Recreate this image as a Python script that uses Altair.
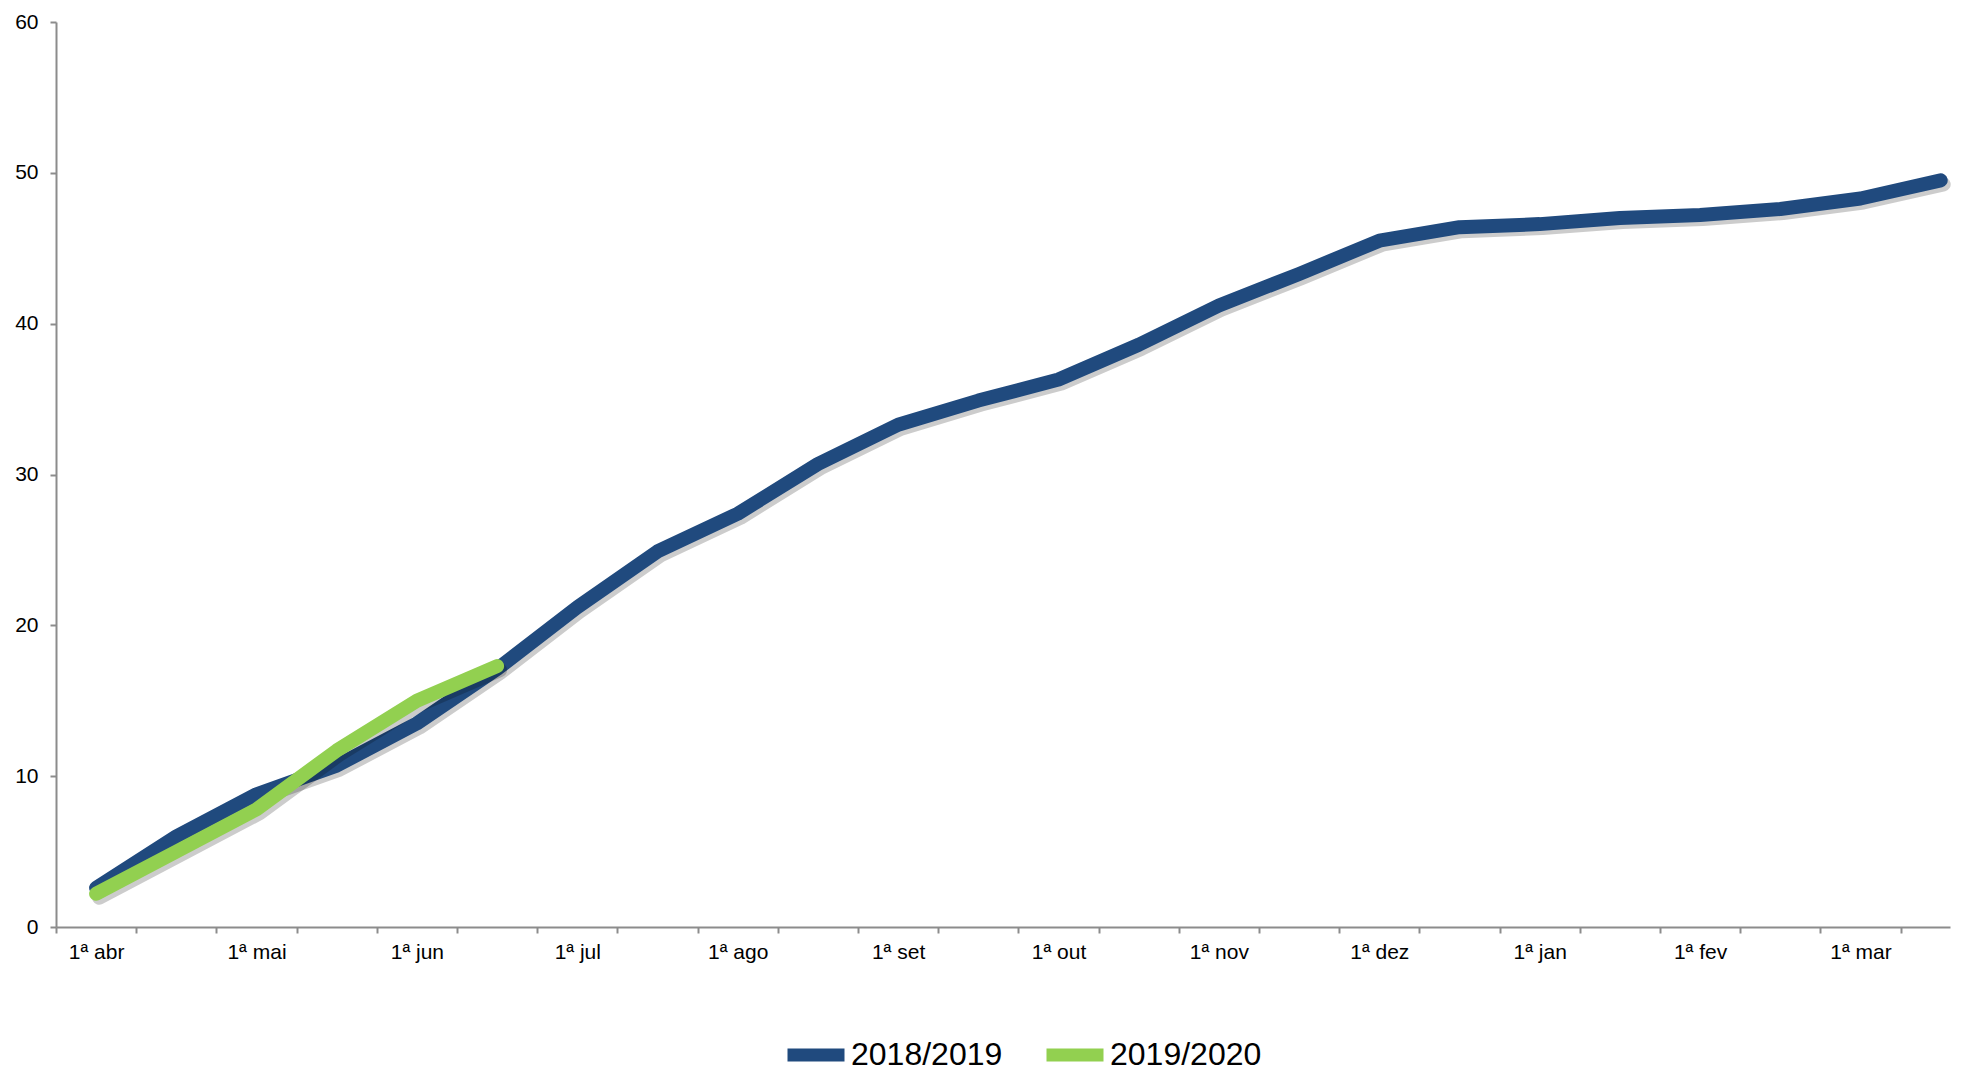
import altair as alt
import pandas as pd

# Month labels (every other half-month period carries a label)
month_labels = ["1ª abr", "1ª mai", "1ª jun", "1ª jul", "1ª ago", "1ª set",
                "1ª out", "1ª nov", "1ª dez", "1ª jan", "1ª fev", "1ª mar"]

series_names = ["2018/2019", "2019/2020"]

values_2018_2019 = [2.6, 6.0, 8.8, 10.7, 13.5, 17.1, 21.2, 24.9, 27.4, 30.7,
                    33.3, 34.9, 36.3, 38.6, 41.2, 43.3, 45.5, 46.4, 46.6, 47.0,
                    47.2, 47.6, 48.3, 49.5]
values_2019_2020 = [2.2, 5.0, 7.8, 11.7, 15.0, 17.3]

colors = ["#204A7E", "#92D050"]

rows = []
for i, v in enumerate(values_2018_2019):
    rows.append({"period": i + 0.5, "series": series_names[0], "value": v})
for i, v in enumerate(values_2019_2020):
    rows.append({"period": i + 0.5, "series": series_names[1], "value": v})
df = pd.DataFrame(rows)

n_periods = len(values_2018_2019)
PLOT_W = 1894
STEP = 80.2
X_MAX = PLOT_W / STEP
FONT = "Liberation Sans"

label_array = "[" + ",".join("'" + m + "'" for m in month_labels) + "]"
label_expr = f"datum.value % 2 == 0 ? {label_array}[datum.value / 2] : ''"

x_enc = alt.X(
    "period:Q",
    scale=alt.Scale(domain=[0, X_MAX], nice=False, zero=False),
    axis=alt.Axis(
        values=list(range(n_periods)),
        labelExpr=label_expr,
        labelOffset=STEP / 2,
        labelFlush=False,
        labelOverlap=False,
        title=None,
        grid=False,
        tickSize=6,
        labelPadding=8,
    ),
)
y_enc = alt.Y(
    "value:Q",
    scale=alt.Scale(domain=[0, 60], nice=False),
    axis=alt.Axis(values=[0, 10, 20, 30, 40, 50, 60], title=None, grid=False,
                  tickSize=6, labelPadding=12),
)

color_enc = alt.Color(
    "series:N",
    scale=alt.Scale(domain=series_names, range=colors),
    legend=alt.Legend(
        title=None,
        orient="none",
        direction="horizontal",
        legendX=725,
        legendY=998,
        symbolType="stroke",
        symbolSize=3249,
        symbolStrokeWidth=13,
        labelFontSize=32,
        labelFont=FONT,
        labelColor="#000000",
        labelOffset=0,
        columnPadding=17,
    ),
)

base = alt.Chart(df)

def shadow(name):
    return base.transform_filter(alt.datum.series == name).mark_line(
        strokeWidth=14, strokeCap="round", strokeJoin="round",
        color="#000000", opacity=0.2, xOffset=3, yOffset=4,
    ).encode(x=x_enc, y=y_enc, detail="series:N")

def line(name):
    return base.transform_filter(alt.datum.series == name).mark_line(
        strokeWidth=14, strokeCap="round", strokeJoin="round",
    ).encode(x=x_enc, y=y_enc, color=color_enc)

chart = alt.layer(
    shadow(series_names[0]), line(series_names[0]),
    shadow(series_names[1]), line(series_names[1]),
).properties(
    width=PLOT_W,
    height=905,
    autosize=alt.AutoSizeParams(type="none"),
    padding={"left": 48, "top": 14, "right": 6, "bottom": 146},
).configure_view(
    stroke=None
).configure_axis(
    labelFont=FONT,
    labelFontSize=21,
    labelColor="#000000",
    domainColor="#8C8C8C",
    domainWidth=2,
    tickColor="#8C8C8C",
    tickWidth=2,
)

chart.save("out.html", embed_options={"renderer": "svg", "actions": False})
